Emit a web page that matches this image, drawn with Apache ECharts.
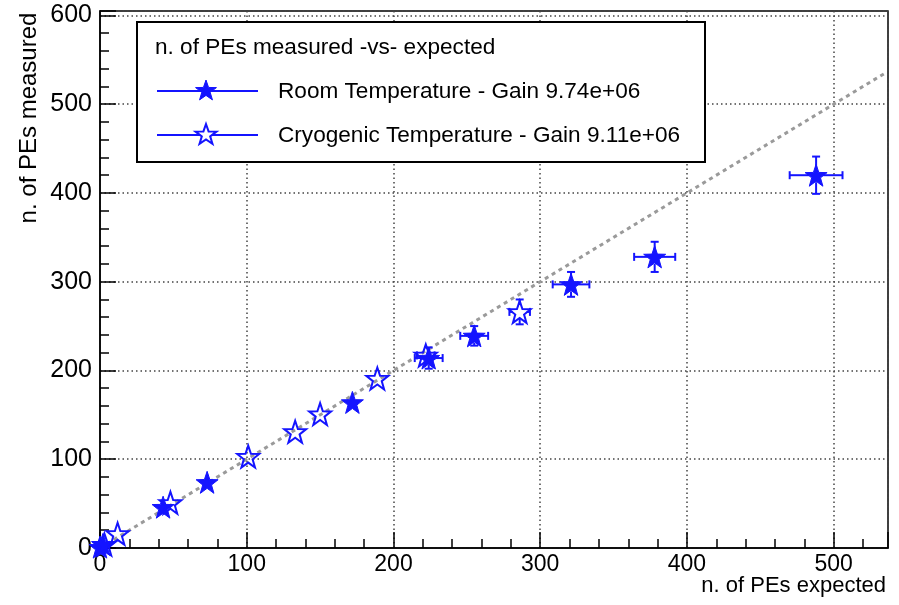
<!DOCTYPE html>
<html>
<head>
<meta charset="utf-8">
<script src="https://cdn.jsdelivr.net/npm/echarts/dist/echarts.min.js"></script>
<style>
  html, body { margin: 0; padding: 0; background: #fff; }
  #chart { width: 899px; height: 605px; }
</style>
</head>
<body>
<div id="chart"></div>
<script>
// room temperature (filled stars)
const roomX = [0, 2, 43, 73, 172, 224, 255, 321, 378, 488];
const roomY = [1, 4, 46, 74, 164, 214, 239, 297, 328, 420];
const roomXErr = [1, 1, 2, 3, 5, 9.5, 9.5, 12.5, 14, 18];
const roomYErr = [1, 1, 3, 4, 6, 12, 11, 14, 17, 21];

// cryogenic temperature (open stars)
const cryoX = [3, 12, 48, 101, 133, 150, 189, 222, 286];
const cryoY = [4, 16, 51, 103, 131, 151, 191, 217, 266];
const cryoXErr = [1, 1.5, 2.5, 3, 4, 4, 5, 6, 7];
const cryoYErr = [1.5, 2, 3, 4, 5, 6, 7, 8, 14];

// y = x reference line
const idealX = [0, 535];
const idealY = [0, 535];

const legendTitle = "n. of PEs measured -vs- expected";
const roomName = "Room Temperature - Gain 9.74e+06";
const cryoName = "Cryogenic Temperature - Gain 9.11e+06";

const BLUE = "#1414ff";
const FONT = "'Liberation Sans', Arial, sans-serif";
const STAR = "M0,-10 L2.351,-3.236 L9.511,-3.09 L3.804,1.236 L5.878,8.09 L0,4 L-5.878,8.09 L-3.804,1.236 L-9.511,-3.09 L-2.351,-3.236 Z";
const MARK = 22;

// star outline for the legend icons
function starPoints(cx, cy, r) {
  const pts = [];
  for (let k = 0; k < 10; k++) {
    const a = -Math.PI / 2 + (k * Math.PI) / 5;
    const rr = k % 2 === 0 ? r : r * 0.4;
    pts.push([cx + rr * Math.cos(a), cy + rr * Math.sin(a)]);
  }
  return pts;
}

const chart = echarts.init(document.getElementById("chart"));

// error bars, left out where the marker covers them (like ROOT)
function errorBars(params, api) {
  const x = api.value(0), y = api.value(1), ex = api.value(2), ey = api.value(3);
  const c0 = api.coord([x, y]);
  const dx = api.coord([x + ex, y])[0] - c0[0];
  const dy = c0[1] - api.coord([x, y + ey])[1];
  const gap = 7;
  const cap = 4;
  const style = { stroke: BLUE, lineWidth: 2 };
  const kids = [];
  const seg = (x1, y1, x2, y2) => kids.push({ type: "line", shape: { x1, y1, x2, y2 }, style });
  if (dx > gap + 1) {
    seg(c0[0] - dx, c0[1], c0[0] - gap, c0[1]);
    seg(c0[0] + gap, c0[1], c0[0] + dx, c0[1]);
    seg(c0[0] - dx, c0[1] - cap, c0[0] - dx, c0[1] + cap);
    seg(c0[0] + dx, c0[1] - cap, c0[0] + dx, c0[1] + cap);
  }
  if (dy > gap + 1) {
    seg(c0[0], c0[1] - dy, c0[0], c0[1] - gap);
    seg(c0[0], c0[1] + gap, c0[0], c0[1] + dy);
    seg(c0[0] - cap, c0[1] - dy, c0[0] + cap, c0[1] - dy);
    seg(c0[0] - cap, c0[1] + dy, c0[0] + cap, c0[1] + dy);
  }
  return { type: "group", children: kids };
}

const hundreds = (v) => (Math.abs(v % 100) < 1e-6 ? String(v) : "");

const gridLine = { show: true, lineStyle: { color: "#444", width: 1.5, type: [1.5, 3] } };

const option = {
  backgroundColor: "#fff",
  animation: false,
  grid: {
    left: 100, right: 11, top: 11, bottom: 57,
    show: true, borderColor: "#000", borderWidth: 1.5,
  },
  xAxis: [
    {
      type: "value", min: 0, max: 537, interval: 100,
      axisLine: { show: true, lineStyle: { color: "#000", width: 1.5 } },
      axisTick: { show: true, inside: true, length: 16, lineStyle: { color: "#000", width: 1.5 } },
      axisLabel: { formatter: hundreds, color: "#000", fontSize: 23, fontFamily: FONT, margin: 5 },
      splitLine: gridLine,
    },
    {
      type: "value", min: 0, max: 537, interval: 20, position: "bottom",
      axisLine: { show: false },
      axisTick: { show: true, inside: true, length: 9, lineStyle: { color: "#000", width: 1.5 } },
      axisLabel: { show: false },
      splitLine: { show: false },
    },
  ],
  yAxis: [
    {
      type: "value", min: 0, max: 605, interval: 100,
      axisLine: { show: true, lineStyle: { color: "#000", width: 1.5 } },
      axisTick: { show: true, inside: true, length: 16, lineStyle: { color: "#000", width: 1.5 } },
      axisLabel: { formatter: hundreds, color: "#000", fontSize: 25, fontFamily: FONT, margin: 8 },
      splitLine: gridLine,
    },
    {
      type: "value", min: 0, max: 605, interval: 20, position: "left",
      axisLine: { show: false },
      axisTick: { show: true, inside: true, length: 9, lineStyle: { color: "#000", width: 1.5 } },
      axisLabel: { show: false },
      splitLine: { show: false },
    },
  ],
  series: [
    {
      type: "line",
      data: idealX.map((x, i) => [x, idealY[i]]),
      showSymbol: false,
      lineStyle: { color: "#9a9a9a", width: 3, type: [4, 4] },
      z: 1,
    },
    {
      type: "custom",
      renderItem: errorBars,
      data: roomX.map((x, i) => [x, roomY[i], roomXErr[i], roomYErr[i]]),
      z: 3,
    },
    {
      type: "custom",
      renderItem: errorBars,
      data: cryoX.map((x, i) => [x, cryoY[i], cryoXErr[i], cryoYErr[i]]),
      z: 3,
    },
    {
      type: "scatter",
      symbol: "path://" + STAR,
      symbolSize: MARK,
      data: roomX.map((x, i) => [x, roomY[i]]),
      itemStyle: { color: BLUE, borderColor: BLUE, borderWidth: 1, opacity: 1 },
      z: 4,
    },
    {
      type: "scatter",
      symbol: "path://" + STAR,
      symbolSize: MARK,
      data: cryoX.map((x, i) => [x, cryoY[i]]),
      itemStyle: { color: "rgba(255,255,255,0)", borderColor: BLUE, borderWidth: 2, opacity: 1 },
      z: 4,
    },
  ],
  graphic: [
    // axis titles
    {
      type: "text", x: 29, y: 118, rotation: Math.PI / 2, z: 50,
      style: { text: "n. of PEs measured", font: "24px " + FONT, fill: "#000", align: "center", verticalAlign: "middle" },
    },
    {
      type: "text", x: 886, y: 586, z: 50,
      style: { text: "n. of PEs expected", font: "22px " + FONT, fill: "#000", align: "right", verticalAlign: "middle" },
    },
    // legend box
    {
      type: "rect", z: 100,
      shape: { x: 137, y: 22, width: 568, height: 140 },
      style: { fill: "#fff", stroke: "#000", lineWidth: 2 },
    },
    {
      type: "text", x: 155, y: 48, z: 101,
      style: { text: legendTitle, font: "22.6px " + FONT, fill: "#000", verticalAlign: "middle" },
    },
    {
      type: "line", z: 101,
      shape: { x1: 157, y1: 91, x2: 258, y2: 91 },
      style: { stroke: BLUE, lineWidth: 2 },
    },
    {
      type: "polygon", z: 102,
      shape: { points: starPoints(206, 91, 11) },
      style: { fill: BLUE, stroke: BLUE, lineWidth: 1 },
    },
    {
      type: "text", x: 278, y: 92, z: 101,
      style: { text: roomName, font: "22.6px " + FONT, fill: "#000", verticalAlign: "middle" },
    },
    {
      type: "line", z: 101,
      shape: { x1: 157, y1: 135, x2: 258, y2: 135 },
      style: { stroke: BLUE, lineWidth: 2 },
    },
    {
      type: "polygon", z: 102,
      shape: { points: starPoints(206, 135, 11) },
      style: { fill: "#fff", stroke: BLUE, lineWidth: 2 },
    },
    {
      type: "text", x: 278, y: 136, z: 101,
      style: { text: cryoName, font: "22.6px " + FONT, fill: "#000", verticalAlign: "middle" },
    },
  ],
};

chart.setOption(option);
</script>
</body>
</html>
